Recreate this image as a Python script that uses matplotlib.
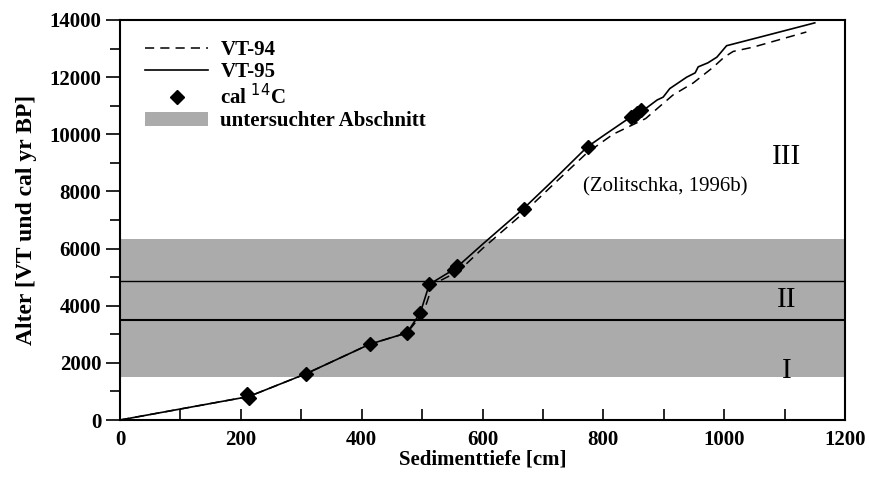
import numpy as np
import matplotlib
matplotlib.use("Agg")
import matplotlib.pyplot as plt
from matplotlib.ticker import MultipleLocator
from matplotlib.lines import Line2D
from matplotlib.patches import Patch

plt.rcParams['font.family'] = ['Liberation Serif', 'DejaVu Serif']

# VT-95 (durchgezogen)
vt95_tiefe = [0, 213, 308, 413, 475, 497, 512, 555, 600, 668, 720, 773, 800, 845,
              870, 889, 899, 910, 938, 952, 957, 973, 988, 1004, 1015, 1059, 1150]
vt95_alter = [0, 820, 1620, 2650, 3050, 3750, 4750, 5300, 6150, 7400, 8450, 9550, 9950, 10600,
              10900, 11200, 11300, 11600, 12000, 12150, 12360, 12500, 12700, 13100, 13160, 13400, 13900]

# VT-94 (gestrichelt)
vt94_tiefe = [0, 213, 308, 413, 475, 502, 518, 560, 600, 668, 720, 773, 816, 870,
              915, 949, 982, 1000, 1015, 1048, 1136]
vt94_alter = [0, 820, 1620, 2650, 3050, 3750, 4750, 5200, 6000, 7250, 8300, 9350, 10000, 10550,
              11370, 11800, 12350, 12700, 12900, 13050, 13580]

# cal 14C Datierungen
c14_tiefe = [211, 214, 308, 413, 475, 497, 512, 553, 557, 668, 775, 845, 850, 855, 862]
c14_alter = [900, 780, 1620, 2650, 3050, 3750, 4750, 5250, 5400, 7400, 9550, 10600, 10650, 10750, 10850]

# untersuchter Abschnitt und Zonengrenzen
abschnitt = (1500, 6350)
grenzen = [3500, 4850]
zonen = ['I', 'II', 'III']
zonen_alter = [1700, 4200, 9200]

fig = plt.figure(figsize=(8.7, 4.88), dpi=100)
ax = fig.add_axes([120/870, 68/488, 725/870, 400/488])

ax.axhspan(abschnitt[0], abschnitt[1], color='#ababab', zorder=0, lw=0)
ax.axhline(grenzen[0], color='black', lw=1.5, zorder=1)
ax.axhline(grenzen[1], color='black', lw=1.0, zorder=1)

ax.plot(vt94_tiefe, vt94_alter, color='black', lw=1.1, dashes=(6, 4), zorder=2)
ax.plot(vt95_tiefe, vt95_alter, color='black', lw=1.2, zorder=3)
ax.plot(c14_tiefe, c14_alter, 'D', color='black', ms=7.5, zorder=4)

for z, a in zip(zonen, zonen_alter):
    ax.text(1104, a, z, ha='center', va='center', fontsize=21)
ax.text(767, 8150, '(Zolitschka, 1996b)', ha='left', va='center', fontsize=15)

ax.set_xlim(0, 1200)
ax.set_ylim(0, 14000)
ax.xaxis.set_major_locator(MultipleLocator(200))
ax.xaxis.set_minor_locator(MultipleLocator(100))
ax.yaxis.set_major_locator(MultipleLocator(2000))
ax.yaxis.set_minor_locator(MultipleLocator(1000))
ax.tick_params(axis='x', which='both', direction='in', length=8, width=1.2, pad=7)
ax.tick_params(axis='y', which='major', direction='out', length=10, width=1.2)
ax.tick_params(axis='y', which='minor', direction='out', length=7, width=1.2)
for lab in ax.get_xticklabels() + ax.get_yticklabels():
    lab.set_fontsize(15)
    lab.set_fontweight('bold')
for s in ax.spines.values():
    s.set_linewidth(1.5)

ax.set_xlabel('Sedimenttiefe [cm]', fontsize=15, fontweight='bold', labelpad=0)
ax.set_ylabel('Alter [VT und cal yr BP]', fontsize=17, fontweight='bold', labelpad=9)

handles = [Line2D([], [], color='black', lw=1.1, dashes=(6, 4)),
           Line2D([], [], color='black', lw=1.2),
           Line2D([], [], color='black', marker='D', ls='none', ms=7),
           Patch(facecolor='#ababab', edgecolor='none')]
labels = ['VT-94', 'VT-95', 'cal $^{14}$C', 'untersuchter Abschnitt']
ax.legend(handles, labels, loc='upper left', bbox_to_anchor=(0.035, 0.95), frameon=False,
          handlelength=3.0, handletextpad=0.6, labelspacing=0.1,
          borderpad=0, borderaxespad=0, prop={'weight': 'bold', 'size': 15})

fig.savefig('out.png', dpi=100)
